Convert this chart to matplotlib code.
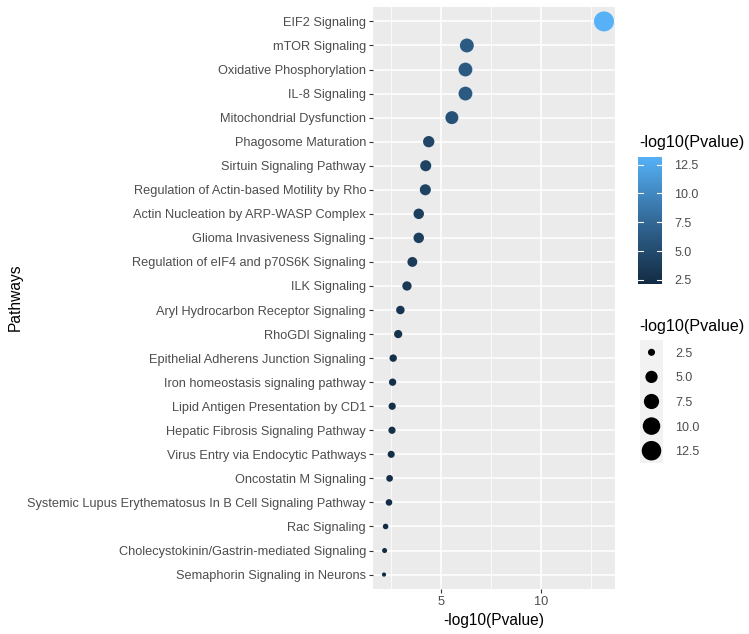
import numpy as np
import matplotlib
matplotlib.use("Agg")
import matplotlib.pyplot as plt
from matplotlib.colors import LinearSegmentedColormap, Normalize

plt.rcParams["font.family"] = ["Liberation Sans", "DejaVu Sans"]

# data, top to bottom as shown
pathways = [
    "EIF2 Signaling",
    "mTOR Signaling",
    "Oxidative Phosphorylation",
    "IL-8 Signaling",
    "Mitochondrial Dysfunction",
    "Phagosome Maturation",
    "Sirtuin Signaling Pathway",
    "Regulation of Actin-based Motility by Rho",
    "Actin Nucleation by ARP-WASP Complex",
    "Glioma Invasiveness Signaling",
    "Regulation of eIF4 and p70S6K Signaling",
    "ILK Signaling",
    "Aryl Hydrocarbon Receptor Signaling",
    "RhoGDI Signaling",
    "Epithelial Adherens Junction Signaling",
    "Iron homeostasis signaling pathway",
    "Lipid Antigen Presentation by CD1",
    "Hepatic Fibrosis Signaling Pathway",
    "Virus Entry via Endocytic Pathways",
    "Oncostatin M Signaling",
    "Systemic Lupus Erythematosus In B Cell Signaling Pathway",
    "Rac Signaling",
    "Cholecystokinin/Gastrin-mediated Signaling",
    "Semaphorin Signaling in Neurons",
]
neg_log_p = [13.16, 6.29, 6.22, 6.22, 5.54, 4.38, 4.23, 4.21, 3.88, 3.88,
             3.56, 3.29, 2.96, 2.85, 2.60, 2.57, 2.55, 2.54, 2.50, 2.42,
             2.39, 2.22, 2.17, 2.14]
x_ticks = [5, 10]
legend_breaks = [2.5, 5.0, 7.5, 10.0, 12.5]

vals = np.array(neg_log_p)
vmin, vmax = vals.min(), vals.max()

# ggplot-like default continuous colour scale
cmap = LinearSegmentedColormap.from_list("gg", ["#132B43", "#336A98", "#56B1F7"])
norm = Normalize(vmin, vmax)


def point_size(v):
    # scale_size: area palette, range 1..6 -> pt^2 for matplotlib
    s = 1 + 5 * np.sqrt((np.asarray(v) - vmin) / (vmax - vmin))
    diam_px = 1.11 * (s * 2.845 + 0.945)
    return (diam_px * 0.72) ** 2


W, H = 749, 634
fig = plt.figure(figsize=(W / 100, H / 100), dpi=100)

ax = fig.add_axes([373 / W, 1 - 589 / H, (615 - 373) / W, (589 - 7) / H])
ax.set_facecolor("#EBEBEB")
for s in ax.spines.values():
    s.set_visible(False)

n = len(pathways)
ypos = np.arange(n)
ax.scatter(vals, ypos, s=point_size(vals), c=vals, cmap=cmap, norm=norm,
           linewidths=0, zorder=3)

span = vmax - vmin
ax.set_xlim(vmin - 0.05 * span, vmax + 0.05 * span)
ax.set_ylim(n - 1 + 0.6, -0.6)
ax.set_xticks(x_ticks)
ax.set_xticks([2.5, 7.5, 12.5], minor=True)
ax.set_yticks(ypos)
ax.set_yticklabels(pathways)
ax.grid(which="major", color="white", linewidth=1.1, zorder=0)
ax.grid(which="minor", axis="x", color="white", linewidth=0.55, zorder=0)
ax.set_axisbelow(True)
ax.tick_params(which="major", length=3, width=0.8, color="#333333",
               labelcolor="#4D4D4D", labelsize=9.2, pad=2)
ax.tick_params(which="minor", length=0)
ax.set_xlabel("-log10(Pvalue)", fontsize=11.2, labelpad=4)
fig.text(15 / W, 1 - 297 / H, "Pathways", fontsize=11.2, rotation=90,
         ha="center", va="center")

# colour bar legend
fig.text(639 / W, 1 - 143 / H, "-log10(Pvalue)", fontsize=11.6, va="center", ha="left")
cax = fig.add_axes([638 / W, 1 - 284 / H, 24 / W, 127 / H])
grad = np.linspace(vmin, vmax, 200).reshape(-1, 1)
cax.imshow(grad, aspect="auto", cmap=cmap, norm=norm, origin="lower",
           extent=[0, 1, vmin, vmax])
cax.set_xlim(0, 1)
cax.set_ylim(vmin, vmax)
cax.set_xticks([])
cax.set_yticks(legend_breaks)
cax.set_yticklabels([f"{b:.1f}" for b in legend_breaks])
cax.yaxis.tick_right()
cax.tick_params(axis="y", length=0, labelsize=9, labelcolor="#4D4D4D", pad=9)
for b in legend_breaks:
    cax.plot([0, 0.2], [b, b], color="white", linewidth=0.8)
    cax.plot([0.8, 1], [b, b], color="white", linewidth=0.8)
for s in cax.spines.values():
    s.set_visible(False)

# size legend
fig.text(639 / W, 1 - 326 / H, "-log10(Pvalue)", fontsize=11.6, va="center", ha="left")
sax = fig.add_axes([640 / W, 1 - 463 / H, 23 / W, 123 / H])
sax.set_facecolor("#F2F2F2")
ky = np.arange(len(legend_breaks))
sax.scatter(np.zeros(len(legend_breaks)), ky, s=point_size(legend_breaks),
            color="black", linewidths=0)
sax.set_xlim(-0.5, 0.5)
sax.set_ylim(len(legend_breaks) - 0.5, -0.5)
sax.set_xticks([])
sax.set_yticks(ky)
sax.set_yticklabels([f"{b:.1f}" for b in legend_breaks])
sax.yaxis.tick_right()
sax.tick_params(axis="y", length=0, labelsize=9, labelcolor="#4D4D4D", pad=9)
for s in sax.spines.values():
    s.set_visible(False)

fig.savefig("out.png", dpi=100)
